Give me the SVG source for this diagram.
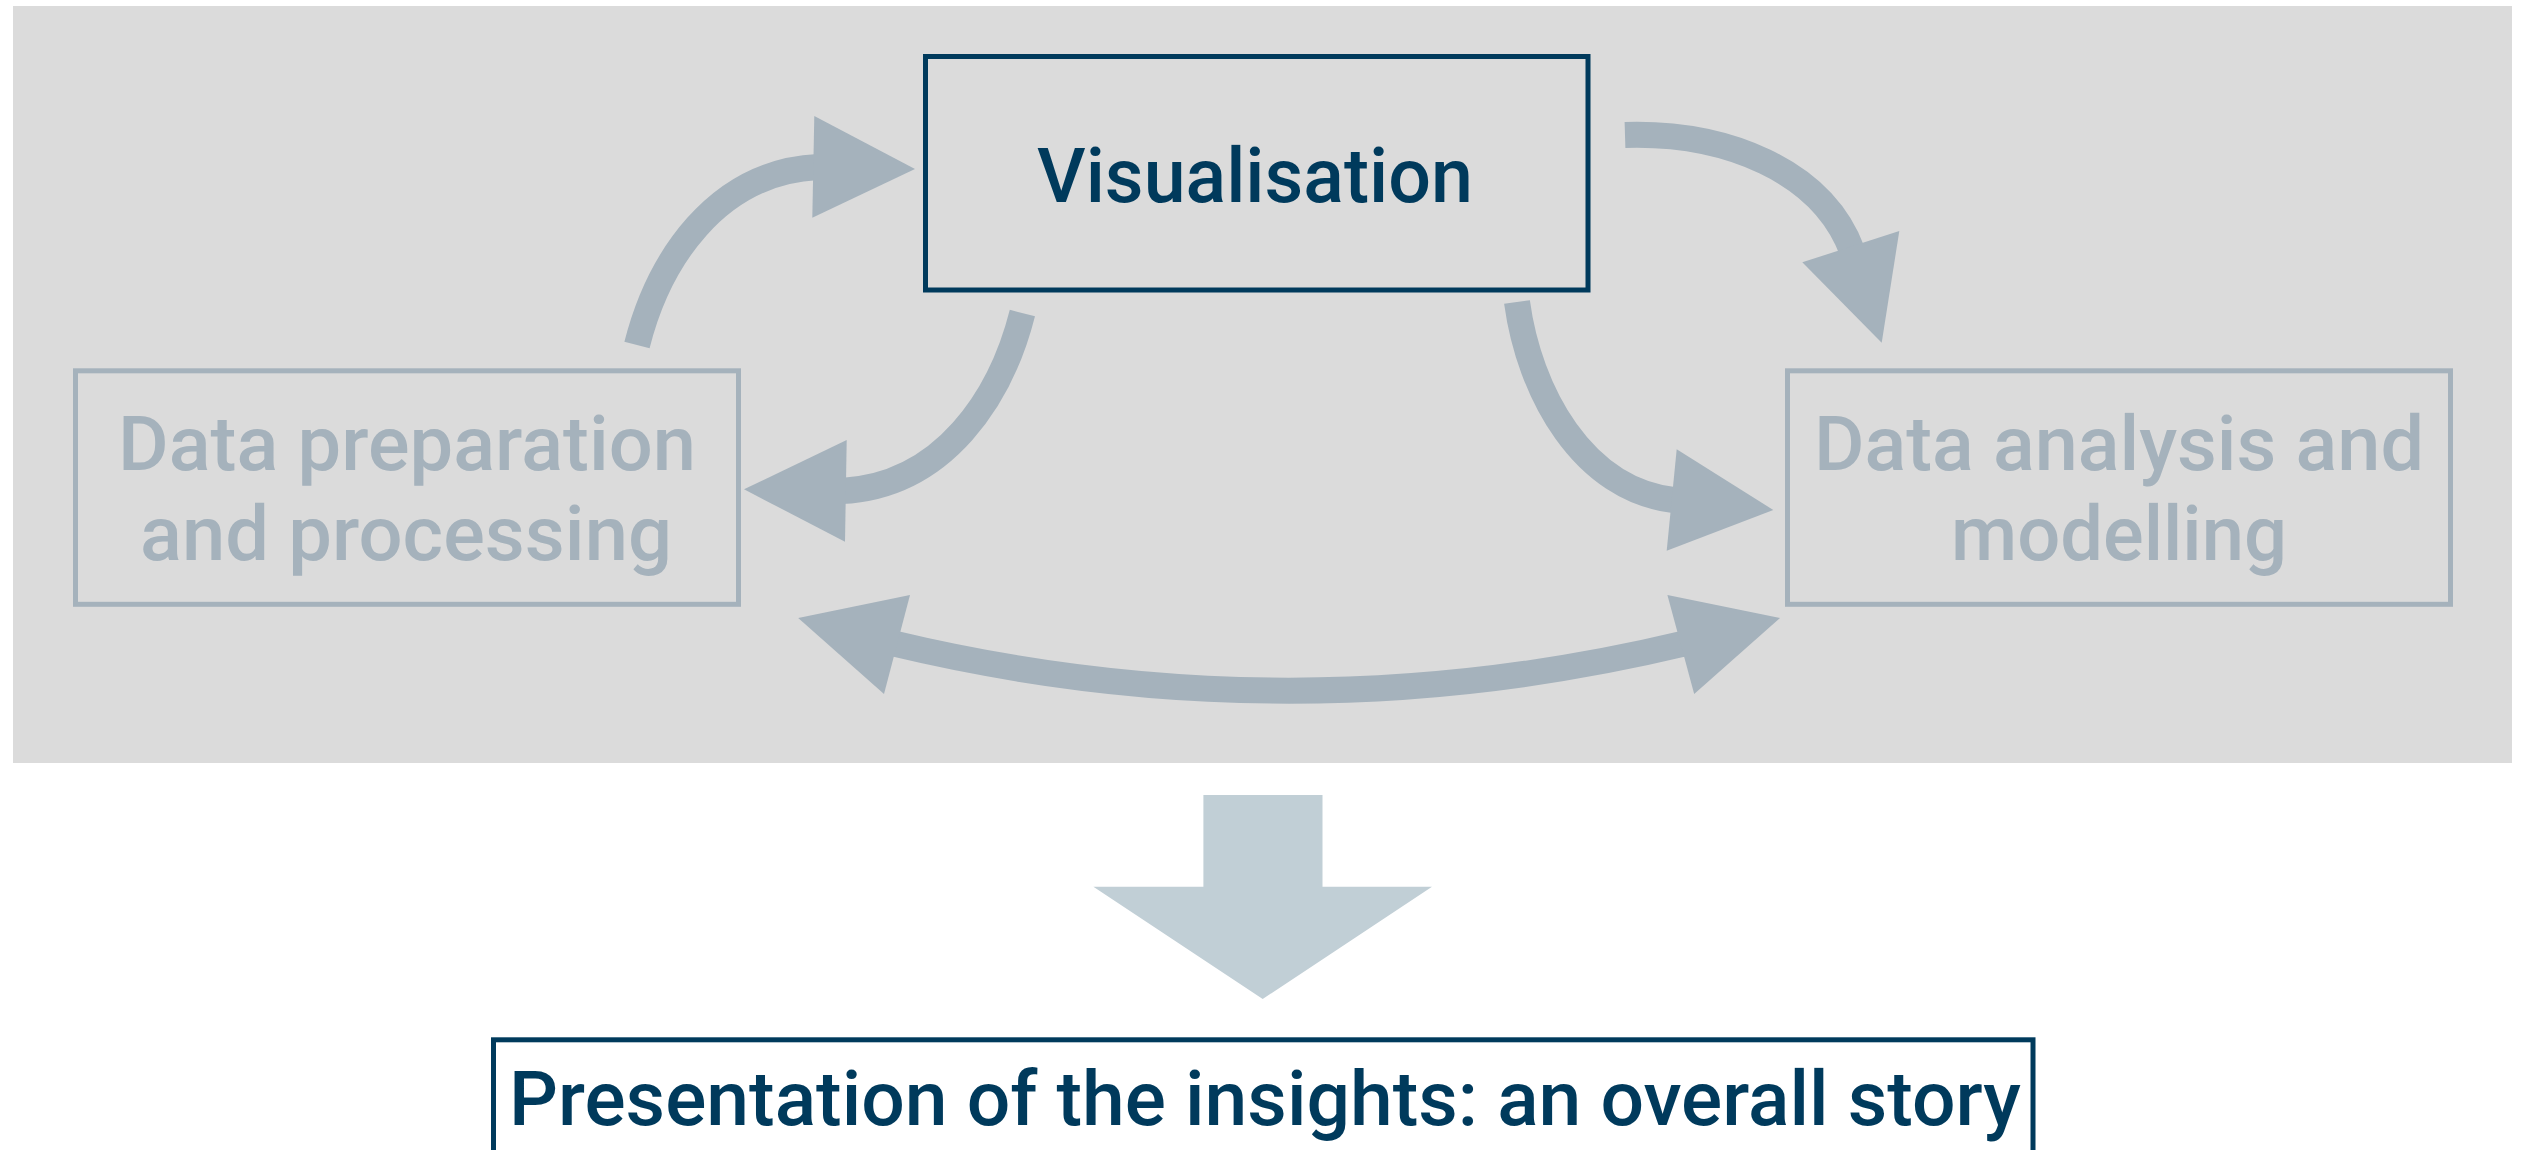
<svg xmlns="http://www.w3.org/2000/svg" width="2525" height="1150" viewBox="0 0 2525 1150">
  <style>
    .lbl { font-family: Roboto, "Liberation Sans", Arial, Helvetica, sans-serif; font-weight: 500; font-size: 76px; text-anchor: middle; }
    .dark { fill: #003a5c; }
    .grey { fill: #a5b2bc; }
    .boxd { fill: none; stroke: #003a5c; stroke-width: 5; }
    .boxg { fill: none; stroke: #a5b2bc; stroke-width: 5; }
    .shaft { fill: none; stroke: #a5b2bc; stroke-width: 26; stroke-linecap: butt; }
    .head { fill: #a5b2bc; }
  </style>
  <rect x="0" y="0" width="2525" height="1150" fill="#ffffff"/>
  <rect id="panel" x="13" y="6" width="2499" height="757" fill="#dbdbdb"/>

  <g id="connectors">
    <path class="shaft" d="M637,345 C658,262 715,172 818,167"/>
    <polygon class="head" points="814.3,116 915,169 812.3,217.7"/>

    <path class="shaft" d="M1022.4,313 C1001.4,396 944.4,486 841.4,491"/>
    <polygon class="head" points="846.7,440 744,489.3 845,541.7"/>

    <path class="shaft" d="M1625,135 C1725,132 1822,170 1852.3,251.5"/>
    <polygon class="head" points="1802.3,262.3 1881.7,342.7 1899.3,231"/>

    <path class="shaft" d="M1517,302 C1529,391 1582,491 1676.7,500.5"/>
    <polygon class="head" points="1676.7,449.3 1773.3,510 1666.7,550.7"/>

    <path class="shaft" d="M892.2,643.2 Q1289,738.2 1685.8,643.2"/>
    <polygon class="head" points="910,595 798.2,618 884,694"/>
    <polygon class="head" points="1667.4,595 1780,618 1694.2,694"/>

    <polygon id="down-arrow" fill="#c1cfd6" points="1203.4,795 1322.5,795 1322.5,886.7 1432,886.7 1262.7,999 1093.4,886.7 1203.4,886.7"/>
  </g>

  <g id="node-visualisation">
    <rect class="boxd" x="925.5" y="56.5" width="662.5" height="233.5"/>
    <text class="lbl dark" x="1255" y="201.7" textLength="436" lengthAdjust="spacingAndGlyphs">Visualisation</text>
  </g>

  <g id="node-preparation">
    <rect class="boxg" x="75.5" y="370.8" width="663" height="233.5"/>
    <text class="lbl grey" x="407" y="470" textLength="578" lengthAdjust="spacingAndGlyphs">Data preparation</text>
    <text class="lbl grey" x="406" y="560" textLength="532" lengthAdjust="spacingAndGlyphs">and processing</text>
  </g>

  <g id="node-analysis">
    <rect class="boxg" x="1787.5" y="370.8" width="663" height="233.5"/>
    <text class="lbl grey" x="2119" y="470" textLength="610" lengthAdjust="spacingAndGlyphs">Data analysis and</text>
    <text class="lbl grey" x="2119" y="560" textLength="336" lengthAdjust="spacingAndGlyphs">modelling</text>
  </g>

  <g id="node-presentation">
    <rect class="boxd" x="493.5" y="1039.8" width="1539.5" height="130"/>
    <text class="lbl dark" x="1265" y="1125" textLength="1512" lengthAdjust="spacingAndGlyphs">Presentation of the insights: an overall story</text>
  </g>
</svg>
